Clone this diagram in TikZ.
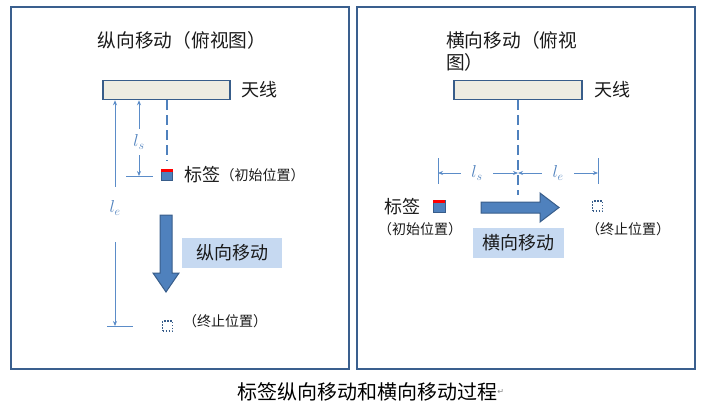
\documentclass[tikz,border=0pt]{standalone}
\usepackage{fontspec}
\newfontfamily\cjkfont{Noto Sans CJK SC}
\newfontfamily\markfont{DejaVu Sans}
\usetikzlibrary{arrows.meta,positioning,calc}
\definecolor{panelblue}{HTML}{3A5F8E}
\definecolor{tagblue}{HTML}{4F81BD}
\definecolor{edgeblue}{HTML}{385D8A}
\definecolor{antfill}{HTML}{EEECE1}
\definecolor{boxfill}{HTML}{C6D9F1}
\definecolor{dimblue}{HTML}{5B8CC8}
\definecolor{tagred}{HTML}{FF0000}
\definecolor{inkgray}{HTML}{1A1A1A}

\begin{document}
\begin{tikzpicture}[
  x=1pt, y=-1pt,
  font=\cjkfont,
  >={Stealth[length=5pt,width=4pt]},
  panel/.style={draw=panelblue, line width=2pt, minimum width=338, minimum height=362, inner sep=0},
  antenna/.style={draw=edgeblue, fill=antfill, line width=1.5pt, minimum width=127, minimum height=19, inner sep=0},
  feed/.style={tagblue, line width=2.5pt, dash pattern=on 10pt off 5pt},
  tagsq/.style={draw=edgeblue, fill=tagblue, line width=0.8pt, minimum size=11, inner sep=0},
  endsq/.style={draw=edgeblue, line width=1.3pt, dash pattern=on 1.5pt off 1.5pt, minimum size=10, inner sep=0},
  dimline/.style={dimblue, line width=0.8pt},
  dimlabel/.style={text=tagblue, font=\fontsize{17.28}{17}\selectfont, inner sep=0},
  movebox/.style={fill=boxfill, minimum height=30, inner sep=0, text=inkgray, font=\fontsize{18}{18}\cjkfont},
  bigarrow/.style={draw=edgeblue, fill=tagblue, line width=1pt},
  bigtext/.style={font=\fontsize{18}{18}\cjkfont, inner sep=0, text=inkgray},
  titletext/.style={font=\fontsize{18.7}{22}\cjkfont, inner sep=0, text=inkgray},
  smalltext/.style={font=\fontsize{14}{14}\cjkfont, inner sep=0, text=inkgray}
]
  \useasboundingbox (0,0) rectangle (709,412);

  % --- the two panels ---
  \node[panel] (panelL) at (180,188) {};
  \node[panel] (panelR) at (526,188) {};

  % --- LEFT: longitudinal movement ---
  \node[titletext] (titleL) at (182,40) {纵向移动（俯视图）};
  \node[antenna] (antL) at (166.5,90) {};
  \node[bigtext, anchor=west] (antLabelL) at (241,90) {天线};

  \node[tagsq] (tagL) at (167,175) {};
  \fill[tagred] (tagL.north west) rectangle ([yshift=-3pt]tagL.north east);
  \node[bigtext, anchor=west] (tagTextL) at (184,175) {标签};
  \node[smalltext, anchor=west] (tagPosL) at (tagTextL.east) {（初始位置）};
  \draw[feed] (antL.south -| tagL) -- ([yshift=8pt]tagL.north);

  % l_s
  \node[dimlabel, inner ysep=6] (lsL) at (139,142) {$l_s$};
  \coordinate (lsEndL) at (139,176);
  \draw[dimline,->] (lsL.north) -- (lsL.north |- antL.south);
  \draw[dimline,->] (lsL.south) -- (lsEndL);
  \draw[dimline] ([xshift=-13pt]lsEndL) -- ([xshift=14pt]lsEndL);

  % l_e
  \node[dimlabel] (leL) at (115,208) {$l_e$};
  \coordinate (leEndL) at (115,326);
  \draw[dimline,->, shorten <=14pt] (leL.north) -- (leL.north |- antL.south);
  \draw[dimline,->, shorten <=27pt] (leL.south) -- (leEndL);
  \draw[dimline] ([xshift=-8pt]leEndL) -- ([xshift=18pt]leEndL);

  % big arrow down
  \coordinate (moveL) at (166,215);
  \draw[bigarrow] (moveL) ++(-6,0) -- ++(12,0) -- ++(0,58) -- ++(7,0)
    -- ++(-13,19) -- ++(-13,-19) -- ++(7,0) -- cycle;
  \node[movebox, minimum width=100] (moveBoxL) at (232,253) {纵向移动\hspace{6pt}};

  \node[endsq] (endL) at (167.5,326) {};
  \node[smalltext, anchor=west] (endPosL) at (183,321) {（终止位置）};

  % --- RIGHT: transverse movement ---
  \node[titletext, anchor=west, align=left] (titleR) at (446,51) {横向移动（俯视\\图）};
  \node[antenna, minimum width=128] (antR) at (518,90) {};
  \node[bigtext, anchor=west] (antLabelR) at (594,90) {天线};

  \coordinate (midR) at (518,173);
  \coordinate (feedEndR) at (518,195);
  \draw[feed] (antR.south) -- (feedEndR);

  % l_s and l_e
  \node[dimlabel, inner xsep=10.5] (lsR) at (477,173) {$l_s$};
  \node[dimlabel, inner xsep=10.5] (leR) at (558,173) {$l_e$};
  \coordinate (lsEndR) at (438,173);
  \coordinate (leEndR) at (598,173);
  \draw[dimline,->] (lsR.west) -- (lsEndR);
  \draw[dimline,->] (lsR.east) -- (midR);
  \draw[dimline,->] (leR.west) -- (midR);
  \draw[dimline,->] (leR.east) -- (leEndR);
  \draw[dimline] ([yshift=15pt]lsEndR) -- ([yshift=-11pt]lsEndR);
  \draw[dimline] ([yshift=15pt]leEndR) -- ([yshift=-11pt]leEndR);

  \node[tagsq, minimum size=12] (tagR) at (439,206) {};
  \fill[tagred] (tagR.north west) rectangle ([yshift=-3pt]tagR.north east);
  \node[bigtext, anchor=east] (tagTextR) at (421,207) {标签};
  \node[smalltext] (tagPosR) at (420,229) {（初始位置）};

  % big arrow right
  \coordinate (moveR) at (481,207.5);
  \draw[bigarrow] (moveR) ++(0,-5.5) -- ++(59,0) -- ++(0,-9) -- ++(19,14.5)
    -- ++(-19,14.5) -- ++(0,-9) -- ++(-59,0) -- cycle;
  \node[movebox, minimum width=91] (moveBoxR) at (518.5,243) {横向移动};

  \node[endsq] (endR) at (597.5,206) {};
  \node[smalltext] (endPosR) at (628,229) {（终止位置）};

  % --- caption ---
  \node[font=\fontsize{20}{20}\cjkfont, inner sep=0] (caption) at (367,392) {标签纵向移动和横向移动过程};
  \node[inner sep=0, font=\fontsize{8}{8}\markfont, text=gray, right=0pt of caption] (captionMark) {↵};

\end{tikzpicture}
\end{document}
